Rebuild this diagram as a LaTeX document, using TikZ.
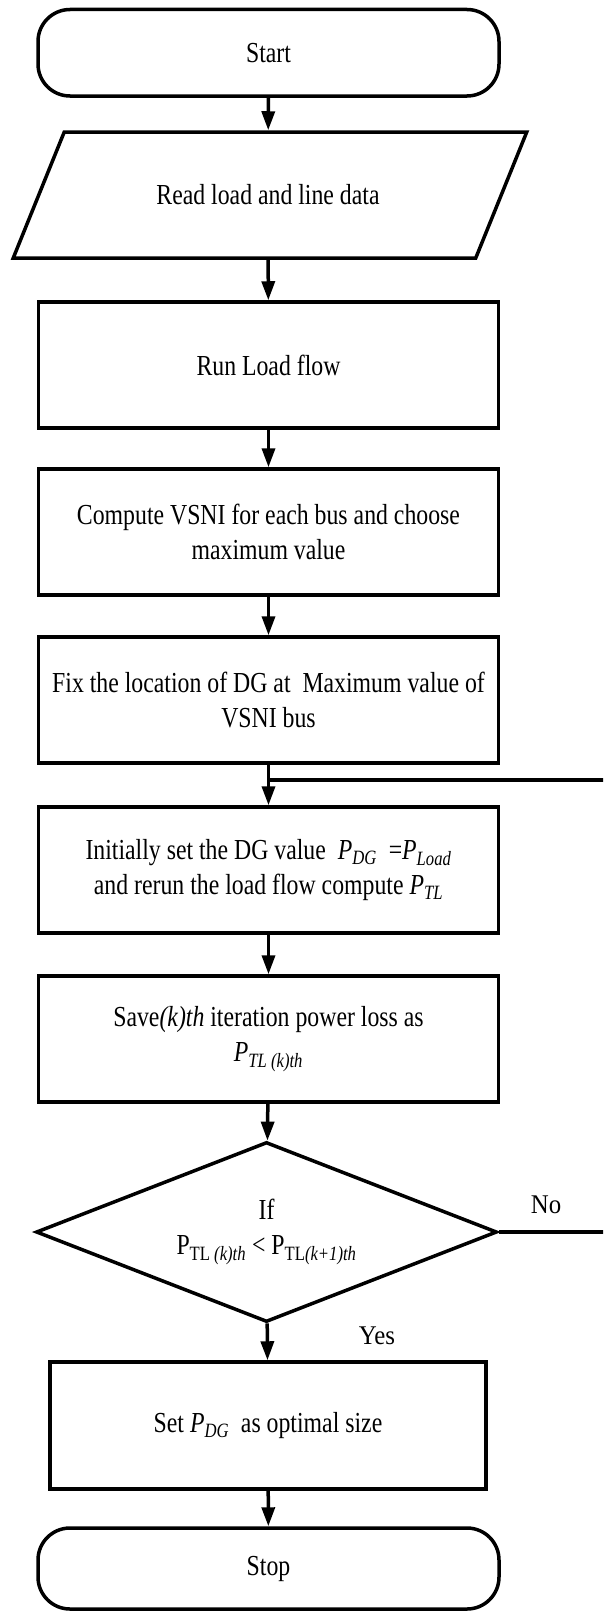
\documentclass[tikz,border=0pt]{standalone}
\usepackage{fontspec}
\setmainfont{Liberation Serif}[FakeStretch=0.82]
\newfontfamily\labelfont{Liberation Serif}[FakeStretch=0.92]
\usetikzlibrary{arrows.meta,shapes.geometric,calc}

% italic P with an italic subscript
\newcommand\Pit[1]{\textit{P}\textsubscript{\textit{#1}}}

\tikzset{
  flow/.style={line width=3.5pt, draw=black, font=\fontsize{29}{35}\selectfont,
               align=center, inner sep=0pt},
  terminal/.style={flow, rectangle, rounded corners=32pt, minimum width=461pt},
  procbox/.style={flow, rectangle, minimum width=460pt, minimum height=126pt},
  iobox/.style={flow, draw=none, rectangle, minimum width=459pt, minimum height=126pt},
  decision/.style={flow, diamond, aspect=2.56, minimum width=461pt, minimum height=180pt},
  link/.style={line width=3.5pt, -{Triangle[length=19pt,width=13pt]}},
  loopline/.style={line width=3.5pt},
  branch/.style={font=\labelfont\fontsize{27}{32}\selectfont, inner sep=0pt, anchor=base},
}

\begin{document}
\begin{tikzpicture}[x=1pt,y=-1pt]
\useasboundingbox (0,0) rectangle (603,1611);
\clip (0,0) rectangle (603,1611);

% terminals and process steps
\node[terminal, minimum height=86.5pt] (start) at (268.5,52.75) {Start};
\node[iobox] (read) at (268,195) {Read load and line data};
\draw[line width=3.5pt, line join=miter]
  ($(read.north west)+(27.5,1.75)$) -- ($(read.north east)+(27.5,1.75)$)
  -- ($(read.south east)+(-23.5,-1.75)$) -- ($(read.south west)+(-23.5,-1.75)$) -- cycle;
\node[procbox] (run)  at (268.5,365)  {Run Load flow};
\node[procbox] (comp) at (268.5,532)  {Compute VSNI for each bus and choose\\maximum value};
\node[procbox] (fix)  at (268.5,700)  {Fix the location of DG at\ \ Maximum value of\\VSNI bus};
\node[procbox] (init) at (268.5,870)  {Initially set the DG value\ \ \Pit{DG}\ \ =\Pit{Load}\\and rerun the load flow compute \Pit{TL}};
\node[procbox] (save) at (268.5,1039) {Save\textit{(k)th} iteration power loss as\\\Pit{TL (k)th}};
\node[decision] (dec) at (266.5,1232) {If\\P\textsubscript{TL \textit{(k)th}} < P\textsubscript{TL\textit{(k+1)th}}};
\node[procbox, minimum width=436pt, minimum height=127pt] (set) at (268,1425.5) {Set \Pit{DG}\ \ as optimal size};
\node[terminal, minimum height=81pt] (stop) at (268.5,1568.5) {Stop};

% branch labels
\node[branch] (nolbl)  at (546,1213) {No};
\node[branch] (yeslbl) at (377,1344) {Yes};

% main flow
\draw[link] (start) -- (read);
\draw[link] (read) -- (run);
\draw[link] (run) -- (comp);
\draw[link] (comp) -- (fix);
\draw[link] (fix) -- (init);
\draw[link] (save) -- (dec);
\draw[link] (init) -- (save);
\draw[link] (dec) -- (set);
\draw[link] (set) -- (stop);

% loop back when the loss still decreases
\coordinate (loopR) at (625,780);
\draw[loopline] (dec.east) -| (loopR) -- (fix.south |- loopR);
\end{tikzpicture}
\end{document}
